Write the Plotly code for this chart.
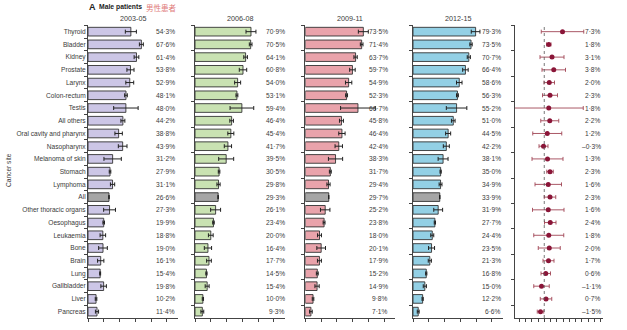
import plotly.graph_objects as go

sites = ["Thyroid", "Bladder", "Kidney", "Prostate", "Larynx", "Colon-rectum", "Testis",
         "All others", "Oral cavity and pharynx", "Nasopharynx", "Melanoma of skin", "Stomach",
         "Lymphoma", "All", "Other thoracic organs", "Oesophagus", "Leukaemia", "Bone", "Brain",
         "Lung", "Gallbladder", "Liver", "Pancreas"]

periods = ["2003-05", "2006-08", "2009-11", "2012-15"]

surv_2003 = [54.3, 67.6, 61.4, 53.8, 52.9, 48.1, 48.0, 44.2, 38.8, 43.9, 31.2, 27.9,
             31.1, 26.6, 27.3, 19.9, 18.8, 19.0, 16.1, 15.4, 19.8, 10.2, 11.4]
ci_2003 = [7.0, 2.5, 3.0, 4.5, 5.0, 1.7, 15.5, 2.5, 4.7, 5.5, 11.0, 1.0,
           2.7, 0.3, 7.5, 1.0, 3.5, 5.5, 4.0, 0.6, 3.5, 1.0, 2.0]

surv_2006 = [70.9, 70.5, 64.1, 60.8, 54.0, 53.1, 59.4, 46.4, 45.4, 41.7, 39.5, 30.5,
             29.8, 29.3, 26.1, 23.4, 20.0, 16.4, 17.7, 14.5, 15.4, 10.0, 9.3]
ci_2006 = [6.3, 1.7, 2.3, 4.7, 3.8, 1.2, 15.0, 2.3, 3.8, 4.6, 9.5, 1.0,
           2.0, 0.3, 6.3, 1.0, 3.0, 4.6, 3.0, 0.8, 2.5, 0.8, 1.8]

surv_2009 = [73.5, 71.4, 63.7, 59.7, 54.9, 52.3, 66.7, 45.8, 46.4, 42.4, 38.3, 31.7,
             29.4, 29.7, 25.2, 23.8, 18.0, 20.1, 17.9, 15.2, 14.9, 9.8, 7.1]
ci_2009 = [6.3, 1.7, 2.1, 3.5, 4.0, 1.2, 22.0, 2.5, 4.0, 4.7, 9.0, 1.2,
           2.0, 0.3, 6.0, 1.2, 2.5, 5.5, 2.5, 1.2, 2.7, 1.0, 1.7]

surv_2012 = [79.3, 73.5, 70.7, 66.4, 58.6, 56.3, 55.2, 51.0, 44.5, 42.2, 38.1, 35.0,
             34.9, 33.9, 31.9, 27.7, 24.4, 23.5, 21.3, 16.8, 15.0, 12.2, 6.6]
ci_2012 = [5.5, 1.5, 2.0, 3.5, 3.5, 1.2, 13.0, 2.3, 3.2, 3.8, 6.3, 0.8,
           1.8, 0.3, 5.6, 0.8, 1.9, 3.8, 2.0, 0.8, 2.0, 0.8, 1.2]

change = [7.3, 1.8, 3.1, 3.8, 2.0, 2.3, 1.8, 2.2, 1.2, -0.3, 1.3, 2.3,
          1.6, 2.3, 1.6, 2.4, 1.8, 2.0, 1.7, 0.6, -1.1, 0.7, -1.5]
change_ci = [8.5, 0.9, 4.8, 4.7, 2.1, 3.0, 13.8, 3.6, 5.8, 1.8, 6.2, 1.3,
             5.3, 2.3, 6.3, 2.3, 6.0, 4.4, 2.2, 1.9, 3.1, 2.3, 1.3]

panel_colors = ["#ccc6e6", "#c9e2b2", "#e9a3ab", "#93d0e5"]
all_color = "#a6a6a6"
FONT = "Liberation Sans Narrow, Arial Narrow, Liberation Sans, sans-serif"
TXT = "#3a3a3a"
FS = 6.6

W, H = 627, 330
y_top, y_bot = 25.3, 318.0
ydom = [1 - y_bot / H, 1 - y_top / H]

panel_left = [88, 195, 305.3, 413]
panel_w = 90
xmax = 114
label_right = [177, 286.5, 390, 502.5]

forest_left, forest_right = 515, 603
f_range = [-11.7, 23.5]

fig = go.Figure()

series = [(surv_2003, ci_2003), (surv_2006, ci_2006), (surv_2009, ci_2009), (surv_2012, ci_2012)]
for i, (vals, cis) in enumerate(series):
    ax = "" if i == 0 else str(i + 1)
    colors = [all_color if s == "All" else panel_colors[i] for s in sites]
    fig.add_trace(go.Bar(
        x=vals, y=sites, orientation="h",
        marker=dict(color=colors, line=dict(color="#333333", width=0.9)),
        error_x=dict(type="data", array=cis, color="#222222", thickness=1, width=2),
        xaxis="x" + ax, yaxis="y" + ax, showlegend=False, hoverinfo="x+y"))
    for s, v in zip(sites, vals):
        fig.add_annotation(x=label_right[i] / W, xref="paper", y=s, yref="y" + ax,
                           text=f"{v:.1f}%".replace(".", "·"), showarrow=False,
                           xanchor="right", yanchor="middle",
                           font=dict(family=FONT, size=FS, color=TXT))
    fig.add_annotation(x=(panel_left[i] + 45) / W, xref="paper", y=1 - 18 / H, yref="paper",
                       text=periods[i], showarrow=False, xanchor="center", yanchor="middle",
                       font=dict(family=FONT, size=7.2, color=TXT))

# forest panel
fig.add_trace(go.Scatter(
    x=change, y=sites, mode="markers",
    marker=dict(color="#8a1538", size=5),
    error_x=dict(type="data", array=change_ci, color="#a04555", thickness=0.9, width=2),
    xaxis="x5", yaxis="y5", showlegend=False))
for s, v in zip(sites, change):
    t = f"{abs(v):.1f}%".replace(".", "·")
    if v < 0:
        t = "–" + t
    fig.add_annotation(x=forest_right / W, xref="paper", y=s, yref="y5",
                       text=t, showarrow=False, xanchor="right", yanchor="middle",
                       font=dict(family=FONT, size=FS, color=TXT))

fig.add_shape(type="line", x0=0, x1=0, xref="x5", y0=1 - 27 / H, y1=ydom[0], yref="paper",
              line=dict(color="#555555", width=0.8, dash="dot"))

axis_common = dict(showline=True, linecolor="#444444", linewidth=1, ticks="outside",
                   tickcolor="#444444", ticklen=3, showgrid=False, zeroline=False,
                   showticklabels=False, fixedrange=True)

layout = dict(width=W, height=H, margin=dict(l=0, r=0, t=0, b=0),
              paper_bgcolor="white", plot_bgcolor="white", bargap=0.32,
              font=dict(family=FONT, size=FS, color=TXT))

for i in range(4):
    ax = "" if i == 0 else str(i + 1)
    layout["xaxis" + ax] = dict(axis_common, domain=[panel_left[i] / W, (panel_left[i] + panel_w) / W],
                                range=[0, xmax], tickvals=[0, 20, 40, 60, 80, 100],
                                anchor="y" + ax)
    yax = dict(axis_common, domain=ydom, type="category", categoryorder="array",
               categoryarray=sites, range=[22.5, -0.5], tickson="boundaries",
               anchor="x" + ax)
    if i == 0:
        yax.update(showticklabels=True, tickfont=dict(family=FONT, size=FS, color=TXT),
                   automargin=False)
    else:
        yax.update(matches="y")
    layout["yaxis" + ax] = yax

layout["xaxis5"] = dict(axis_common, domain=[forest_left / W, forest_right / W], range=f_range,
                        tickvals=[-10 + 2.5 * k for k in range(14)], anchor="y5")
layout["yaxis5"] = dict(axis_common, domain=ydom, type="category", categoryorder="array",
                        categoryarray=sites, range=[22.5, -0.5], tickson="boundaries",
                        matches="y", anchor="x5")

fig.update_layout(**layout)

fig.add_annotation(x=87 / W, xref="paper", y=1 - 7 / H, yref="paper", text="<b>A</b>",
                   showarrow=False, xanchor="left", yanchor="middle",
                   font=dict(family=FONT, size=9, color="#222222"))
fig.add_annotation(x=97 / W, xref="paper", y=1 - 7 / H, yref="paper", text="<b>Male patients</b>",
                   showarrow=False, xanchor="left", yanchor="middle",
                   font=dict(family=FONT, size=6.8, color="#222222"))
fig.add_annotation(x=144 / W, xref="paper", y=1 - 7 / H, yref="paper", text="男性患者",
                   showarrow=False, xanchor="left", yanchor="middle",
                   font=dict(family="Noto Sans CJK SC", size=7.5, color="#e07b7b"))
fig.add_annotation(x=8 / W, xref="paper", y=1 - 170 / H, yref="paper", text="Cancer site",
                   showarrow=False, textangle=-90, xanchor="center", yanchor="middle",
                   font=dict(family=FONT, size=FS, color=TXT))

fig.write_html("out.html")
